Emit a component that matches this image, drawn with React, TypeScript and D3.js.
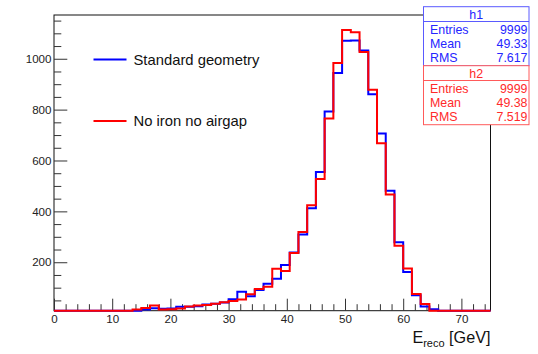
import React, { useRef, useEffect } from 'react';
import { select, scaleLinear, axisBottom, axisLeft, line, curveStepAfter, range } from 'd3';

// histogram binning: 50 bins of 1.5 GeV from 0 to 75
const binLow = 0;
const binWidth = 1.5;

const standardGeometry = [
  0, 0, 0, 0, 0, 0, 0, 0, 0, 0,
  14, 19, 17, 18, 25, 25, 27, 34, 37, 42,
  55, 84, 66, 91, 115, 135, 189, 238, 309, 412,
  555, 793, 944, 1071, 1072, 1032, 860, 706, 481, 279,
  162, 70, 26, 15, 0, 0, 0, 0, 0, 0
];

const noIronNoAirgap = [
  0, 0, 0, 0, 0, 0, 0, 0, 0, 14,
  20, 30, 14, 15, 18, 26, 30, 32, 37, 43,
  48, 54, 74, 95, 104, 174, 166, 236, 319, 424,
  527, 765, 983, 1113, 1104, 1027, 878, 668, 466, 265,
  175, 75, 36, 8, 0, 0, 0, 0, 0, 0
];

const xTicks = [0, 10, 20, 30, 40, 50, 60, 70];
const yTicks = [200, 400, 600, 800, 1000];

const legendLabels = ['Standard geometry', 'No iron no airgap'];
const statNames = ['Entries', 'Mean', 'RMS'];
const statsH1 = ['9999', '49.33', '7.617'];
const statsH2 = ['9999', '49.38', '7.519'];

const FONT = '"Liberation Sans", Arial, Helvetica, sans-serif';

const App = () => {
  const svgRef = useRef(null);

  useEffect(() => {
    const svg = select(svgRef.current);
    svg.selectAll('*').remove();

    const left = 54;
    const right = 490.5;
    const top = 15;
    const bottom = 310.7;

    const xScale = scaleLinear().domain([0, 75]).range([left, right]);
    const yMin = 9.5;
    const yScale = scaleLinear().domain([yMin, 1172]).range([bottom, top]);

    // frame
    svg
      .append('rect')
      .attr('x', left)
      .attr('y', top)
      .attr('width', right - left)
      .attr('height', bottom - top)
      .attr('fill', 'white')
      .attr('stroke', '#111')
      .attr('stroke-width', 1);

    // axes (ticks point inward like ROOT)
    const xMinor = axisBottom(xScale)
      .tickValues(range(0, 76, 2).filter(v => v % 10 !== 0))
      .tickSize(-6.5)
      .tickFormat(() => '');
    const xMajor = axisBottom(xScale)
      .tickValues(xTicks)
      .tickSize(-12)
      .tickPadding(4.5)
      .tickFormat(d => String(d));
    const yMinor = axisLeft(yScale)
      .tickValues(range(50, 1170, 50).filter(v => v % 200 !== 0))
      .tickSize(-7.3)
      .tickFormat(() => '');
    const yMajor = axisLeft(yScale)
      .tickValues(yTicks)
      .tickSize(-13.3)
      .tickPadding(2.5)
      .tickFormat(d => String(d));

    const styleAxis = g => {
      g.select('.domain').remove();
      g.selectAll('line').attr('stroke', '#333');
      g.selectAll('text')
        .attr('fill', '#222')
        .style('font-family', FONT)
        .style('font-size', '11.6px');
    };

    svg.append('g').attr('transform', `translate(0, ${bottom})`).call(xMinor).call(styleAxis);
    svg.append('g').attr('transform', `translate(0, ${bottom})`).call(xMajor).call(styleAxis);
    svg.append('g').attr('transform', `translate(${left}, 0)`).call(yMinor).call(styleAxis);
    svg.append('g').attr('transform', `translate(${left}, 0)`).call(yMajor).call(styleAxis);

    // histograms
    const stepLine = line()
      .x(d => xScale(d[0]))
      .y(d => yScale(Math.max(d[1], yMin)))
      .curve(curveStepAfter);

    const toPoints = values => {
      const pts = values.map((v, i) => [binLow + i * binWidth, v]);
      pts.push([binLow + values.length * binWidth, values[values.length - 1]]);
      return pts;
    };

    const series = [
      { values: standardGeometry, color: '#0000ff' },
      { values: noIronNoAirgap, color: '#ff0000' }
    ];

    svg
      .selectAll('.hist')
      .data(series)
      .join('path')
      .attr('class', 'hist')
      .attr('d', s => stepLine(toPoints(s.values)))
      .attr('fill', 'none')
      .attr('stroke', s => s.color)
      .attr('stroke-width', 2);

    // legend
    const legend = svg
      .selectAll('.legend')
      .data(series)
      .join('g')
      .attr('class', 'legend')
      .attr('transform', (s, i) => `translate(93.5, ${59.5 + i * 61.5})`);
    legend
      .append('line')
      .attr('x1', 0)
      .attr('x2', 33)
      .attr('stroke', s => s.color)
      .attr('stroke-width', 2);
    legend
      .append('text')
      .attr('x', 40)
      .attr('y', 5.2)
      .attr('fill', '#111')
      .style('font-family', FONT)
      .style('font-size', '14.8px')
      .text((s, i) => legendLabels[i]);

    // x title
    const title = svg
      .append('text')
      .attr('x', right)
      .attr('y', 343.3)
      .attr('text-anchor', 'end')
      .attr('fill', '#111')
      .style('font-family', FONT)
      .style('font-size', '16.2px');
    title.append('tspan').text('E');
    title.append('tspan').attr('dy', 3.4).style('font-size', '11px').text('reco');
    title.append('tspan').attr('dy', -3.4).text(' [GeV]');

    // stats boxes
    const boxes = [
      { name: 'h1', stats: statsH1, y0: 6.7, text: '#2525ff', border: '#5a5aff' },
      { name: 'h2', stats: statsH2, y0: 65.7, text: '#ff2a2a', border: '#ff5a5a' }
    ];
    const bx0 = 423.5;
    const bx1 = 529;
    boxes.forEach(b => {
      const g = svg.append('g').attr('transform', `translate(0, ${b.y0})`);
      g.append('rect')
        .attr('x', bx0)
        .attr('y', 0)
        .attr('width', bx1 - bx0)
        .attr('height', 59)
        .attr('fill', 'white')
        .attr('stroke', b.border)
        .attr('stroke-width', 1);
      g.append('line')
        .attr('x1', bx0)
        .attr('x2', bx1)
        .attr('y1', 14.8)
        .attr('y2', 14.8)
        .attr('stroke', b.border);
      g.append('text')
        .attr('x', (bx0 + bx1) / 2)
        .attr('y', 12)
        .attr('text-anchor', 'middle')
        .attr('fill', b.text)
        .style('font-family', FONT)
        .style('font-size', '12.4px')
        .text(b.name);
      statNames.forEach((n, i) => {
        const ty = 27 + i * 14.2;
        g.append('text')
          .attr('x', 430)
          .attr('y', ty)
          .attr('fill', b.text)
          .style('font-family', FONT)
          .style('font-size', '12.4px')
          .text(n);
        g.append('text')
          .attr('x', 527.5)
          .attr('y', ty)
          .attr('text-anchor', 'end')
          .attr('fill', b.text)
          .style('font-family', FONT)
          .style('font-size', '12.4px')
          .text(b.stats[i]);
      });
    });
  }, []);

  return (
    <svg
      ref={svgRef}
      width={538}
      height={354}
      style={{ position: 'absolute', left: 0, top: 0, background: 'white' }}
    />
  );
};

export default App;
